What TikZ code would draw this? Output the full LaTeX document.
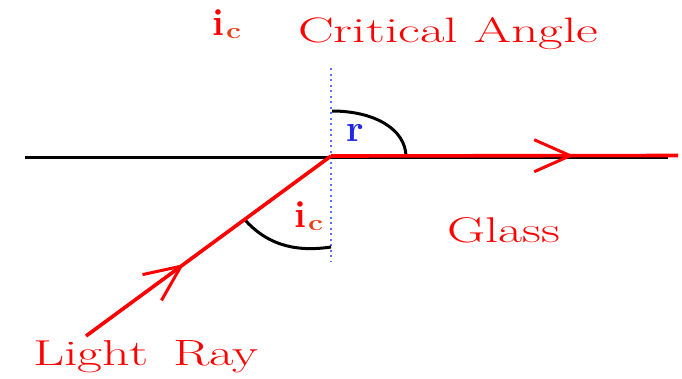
\documentclass[tikz,border=0pt]{standalone}
\usepackage{fontspec}
\setmainfont{Latin Modern Roman}
\usetikzlibrary{arrows.meta,decorations.markings,calc}
\definecolor{rayred}{RGB}{255,0,0}
\definecolor{subor}{RGB}{235,60,20}
\definecolor{rblue}{RGB}{30,40,230}
\definecolor{dotblue}{RGB}{90,110,255}
\newcommand{\subc}{\raisebox{-3pt}{\textcolor{subor}{\resizebox{15pt}{10pt}{\bfseries c}}}}
\tikzset{
  ray/.style={draw=rayred,line width=3.6pt},
  surface/.style={draw=black,line width=3pt},
  normalline/.style={draw=dotblue,line width=1.4pt,dash pattern=on 2pt off 3.5pt},
  anglearc/.style={draw=black,line width=3pt},
  lbl/.style={text=rayred,inner sep=0pt,font=\fontsize{30}{36}\selectfont},
  sym/.style={text=rayred,inner sep=0pt,font=\bfseries\fontsize{38}{44}\selectfont},
  midarrow/.style={postaction={decorate},decoration={markings,
     mark=at position #1 with {\arrow[rayred,line width=3pt]{Straight Barb[length=36pt,width=32pt]}}}}
}
\begin{document}
\begin{tikzpicture}[x=1pt,y=-1pt]
\useasboundingbox (0,0) rectangle (682,378);
\coordinate (L) at (25,157.5);
\coordinate (R) at (668,157.5);
\coordinate (O) at (331,156);
\coordinate (NT) at (331,68);
\coordinate (NB) at (331,262);
\coordinate (S) at (86,336);
\coordinate (E) at (678,155.5);
\coordinate (Rtop) at (332,111);
\coordinate (Rend) at (406,157);
\coordinate (Iray) at (245,220);
\coordinate (Inorm) at (331,247);
% surface
\draw[surface] (L) -- (R);
% normal
\draw[normalline] (NT) -- (NB);
% arcs
\draw[anglearc] (Rtop) .. controls ($(Rtop)+(42,0)$) and ($(Rend)+(0,-28)$) .. (Rend);
\draw[anglearc] (Iray) .. controls ($(Iray)+(20,22)$) and ($(Inorm)+(-40,6)$) .. (Inorm);
% rays
\draw[ray,midarrow=0.40] (S) -- (O);
\draw[ray,midarrow=0.70] (O) -- (E);
% labels
\node[sym,anchor=base west] (ictop) at (212,35) {i\hspace{2pt}\subc};
\node[lbl,anchor=base west] (crit) at (298,42) {\resizebox{300pt}{25pt}{Critical Angle}};
\node[sym,text=rblue,anchor=base west] (r) at (346,141) {r};
\node[sym,anchor=base west] (icbot) at (294,227) {i\hspace{2pt}\subc};
\node[lbl,anchor=base west] (glass) at (447,242) {\resizebox{113pt}{25pt}{Glass}};
\node[lbl,anchor=base west] (light) at (33,365) {\resizebox{115pt}{25pt}{Light}\hspace{25pt}\resizebox{85pt}{25pt}{Ray}};
\end{tikzpicture}
\end{document}
